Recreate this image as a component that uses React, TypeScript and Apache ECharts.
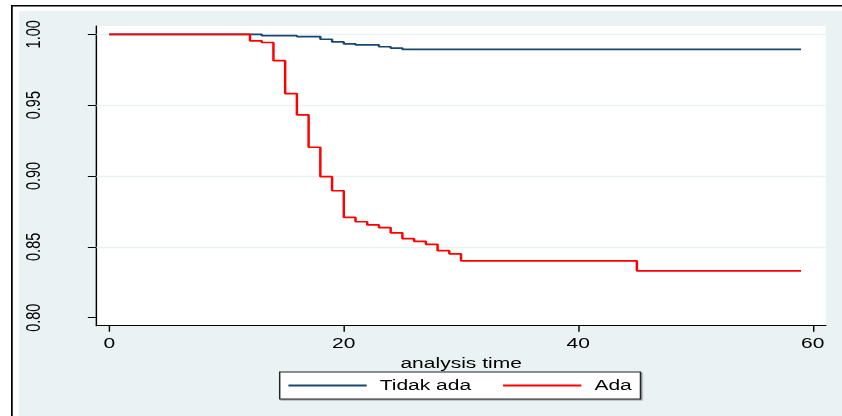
import React, { useEffect, useRef } from "react";
import * as echarts from "echarts";

// ---- data (Kaplan-Meier survival estimates) ----
const tidakTime = [0, 13, 16, 18, 19, 20, 21, 23, 24, 25, 59];
const tidakSurv = [1, 0.999, 0.9984, 0.9965, 0.9946, 0.9933, 0.9925, 0.9912, 0.9903, 0.9894, 0.9894];

const adaTime = [0, 12, 13, 14, 15, 16, 17, 18, 19, 20, 21, 22, 23, 24, 25, 26, 27, 28, 29, 30, 45, 59];
const adaSurv = [
  1, 0.9954, 0.9942, 0.9814, 0.9582, 0.9432, 0.9203, 0.8995, 0.8896, 0.8708, 0.8677, 0.8655,
  0.8635, 0.8599, 0.8558, 0.8539, 0.8518, 0.8473, 0.8451, 0.8401, 0.833, 0.833,
];

const seriesNames = ["Tidak ada", "Ada"];
const xTicks = [0, 20, 40, 60];
const yTicks = [0.8, 0.85, 0.9, 0.95, 1.0];
const xTitle = "analysis time";

const INNER_W = 581;
const H = 416;
const SX = 842 / INNER_W;
const FONT = '"Liberation Sans", Arial, Helvetica, sans-serif';

export default function App() {
  const ref = useRef<HTMLDivElement>(null);

  useEffect(() => {
    if (!ref.current) return;
    const chart = echarts.init(ref.current, null, { renderer: "svg" });
    const toPairs = (t: number[], s: number[]) => t.map((v, i) => [v, s[i]]);
    chart.setOption({
      animation: false,
      backgroundColor: "#ffffff",
      textStyle: { fontFamily: FONT },
      graphic: [
        {
          type: "rect",
          z: -10,
          shape: { x: 13.1, y: 11, width: INNER_W - 13.1, height: H - 11 },
          style: { fill: "#EAF2F3" },
          silent: true,
        },
        {
          type: "line",
          z: -9,
          shape: { x1: 7.6, y1: 5.8, x2: INNER_W, y2: 5.8 },
          style: { stroke: "#000", lineWidth: 1.5 },
          silent: true,
        },
        {
          type: "line",
          z: -9,
          shape: { x1: 8.2, y1: 5.8, x2: 8.2, y2: H },
          style: { stroke: "#000", lineWidth: 1.2 },
          silent: true,
        },
      ],
      grid: {
        left: 66.6,
        right: 11.2,
        top: 26,
        bottom: 90.3,
        show: true,
        backgroundColor: "#ffffff",
        borderWidth: 0,
      },
      legend: {
        data: seriesNames,
        left: 193,
        top: 372,
        orient: "horizontal",
        icon: "rect",
        itemWidth: 54,
        itemHeight: 2,
        itemGap: 22,
        padding: [6, 6, 6, 6],
        backgroundColor: "#ffffff",
        borderColor: "#222222",
        borderWidth: 1,
        shadowColor: "rgba(0,0,0,0.35)",
        shadowBlur: 1,
        shadowOffsetX: 1,
        shadowOffsetY: 1,
        textStyle: {
          fontSize: 14.5,
          lineHeight: 14,
          color: "#000",
          fontFamily: FONT,
          padding: [0, 0, 0, 4],
        },
        selectedMode: false,
      },
      xAxis: {
        type: "value",
        min: -1.09,
        max: 61.11,
        name: xTitle,
        nameLocation: "middle",
        nameGap: 24,
        nameTextStyle: { fontSize: 14.5, color: "#000", fontFamily: FONT },
        axisLine: { show: true, onZero: false, lineStyle: { color: "#000", width: 1 } },
        axisTick: { show: true, length: 6, customValues: xTicks, lineStyle: { color: "#000", width: 1 } },
        axisLabel: {
          customValues: xTicks,
          fontSize: 14.5,
          color: "#000",
          fontFamily: FONT,
          margin: 10,
          formatter: (v: number) => String(Math.round(v)),
        },
        splitLine: { show: false },
      },
      yAxis: {
        type: "value",
        min: 0.79435,
        max: 1.00586,
        axisLine: { show: true, onZero: false, lineStyle: { color: "#000", width: 1 } },
        axisTick: { show: true, length: 6, customValues: yTicks, lineStyle: { color: "#000", width: 1 } },
        axisLabel: {
          customValues: yTicks,
          rotate: 90,
          fontSize: 14.5,
          color: "#000",
          fontFamily: FONT,
          margin: 36,
          formatter: (v: number) => v.toFixed(2),
        },
        splitLine: { show: false },
      },
      series: [
        {
          type: "line",
          name: "grid",
          data: [],
          z: 1,
          silent: true,
          markLine: {
            z: 1,
            silent: true,
            symbol: ["none", "none"],
            label: { show: false },
            lineStyle: { color: "#EAF2F3", type: "solid", width: 1.3 },
            data: yTicks.filter((v) => v > 0.8).map((v) => ({ yAxis: v })),
          },
        },
        {
          type: "line",
          name: seriesNames[0],
          step: "end",
          symbol: "none",
          z: 3,
          color: "#1A476F",
          lineStyle: { color: "#1A476F", width: 1.7 },
          data: toPairs(tidakTime, tidakSurv),
        },
        {
          type: "line",
          name: seriesNames[1],
          step: "end",
          symbol: "none",
          z: 4,
          color: "#FF0000",
          lineStyle: { color: "#FF0000", width: 1.7 },
          data: toPairs(adaTime, adaSurv),
        },
      ],
    });
    return () => chart.dispose();
  }, []);

  return (
    <div
      style={{
        position: "absolute",
        left: 0,
        top: 0,
        width: 842,
        height: H,
        overflow: "hidden",
        background: "#ffffff",
      }}
    >
      <div
        ref={ref}
        style={{
          width: INNER_W,
          height: H,
          transform: `scaleX(${SX})`,
          transformOrigin: "0 0",
        }}
      />
    </div>
  );
}
